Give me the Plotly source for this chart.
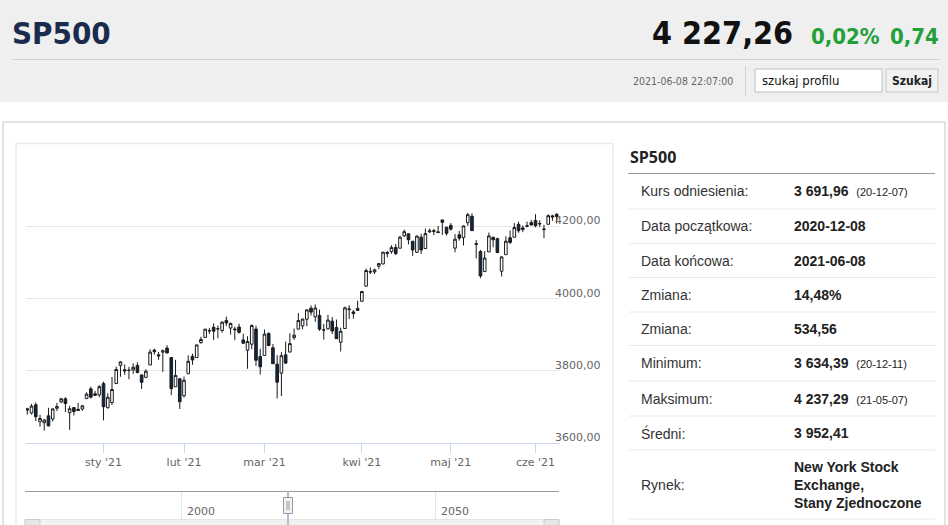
import plotly.graph_objects as go

W, H = 948, 525

# ---------------- data ----------------
dates = [
    "2020-12-07", "2020-12-08", "2020-12-09", "2020-12-10", "2020-12-11", "2020-12-14", "2020-12-15",
    "2020-12-16", "2020-12-17", "2020-12-18", "2020-12-21", "2020-12-22", "2020-12-23", "2020-12-24",
    "2020-12-28", "2020-12-29", "2020-12-30", "2020-12-31",
    "2021-01-04", "2021-01-05", "2021-01-06", "2021-01-07", "2021-01-08", "2021-01-11", "2021-01-12",
    "2021-01-13", "2021-01-14", "2021-01-15", "2021-01-19", "2021-01-20", "2021-01-21", "2021-01-22",
    "2021-01-25", "2021-01-26", "2021-01-27", "2021-01-28", "2021-01-29",
    "2021-02-01", "2021-02-02", "2021-02-03", "2021-02-04", "2021-02-05", "2021-02-08", "2021-02-09",
    "2021-02-10", "2021-02-11", "2021-02-12", "2021-02-16", "2021-02-17", "2021-02-18", "2021-02-19",
    "2021-02-22", "2021-02-23", "2021-02-24", "2021-02-25", "2021-02-26",
    "2021-03-01", "2021-03-02", "2021-03-03", "2021-03-04", "2021-03-05", "2021-03-08", "2021-03-09",
    "2021-03-10", "2021-03-11", "2021-03-12", "2021-03-15", "2021-03-16", "2021-03-17", "2021-03-18",
    "2021-03-19", "2021-03-22", "2021-03-23", "2021-03-24", "2021-03-25", "2021-03-26", "2021-03-29",
    "2021-03-30", "2021-03-31",
    "2021-04-01", "2021-04-05", "2021-04-06", "2021-04-07", "2021-04-08", "2021-04-09", "2021-04-12",
    "2021-04-13", "2021-04-14", "2021-04-15", "2021-04-16", "2021-04-19", "2021-04-20", "2021-04-21",
    "2021-04-22", "2021-04-23", "2021-04-26", "2021-04-27", "2021-04-28", "2021-04-29", "2021-04-30",
    "2021-05-03", "2021-05-04", "2021-05-05", "2021-05-06", "2021-05-07", "2021-05-10", "2021-05-11",
    "2021-05-12", "2021-05-13", "2021-05-14", "2021-05-17", "2021-05-18", "2021-05-19", "2021-05-20",
    "2021-05-21", "2021-05-24", "2021-05-25", "2021-05-26", "2021-05-27", "2021-05-28",
    "2021-06-01", "2021-06-02", "2021-06-03", "2021-06-04", "2021-06-07", "2021-06-08",
]

opens = [
    3694.73, 3683.05, 3705.98, 3659.13, 3656.08, 3675.27, 3666.41, 3696.25, 3713.65, 3722.39,
    3684.28, 3698.08, 3693.42, 3694.03, 3723.03, 3750.01, 3736.19, 3733.27,
    3764.61, 3698.02, 3712.20, 3764.71, 3815.05, 3803.14, 3801.62, 3802.23, 3814.98, 3788.73,
    3781.88, 3816.22, 3857.46, 3844.24, 3851.68, 3862.96, 3836.83, 3755.75, 3778.05,
    3731.17, 3791.84, 3840.27, 3836.66, 3878.30, 3892.59, 3910.49, 3920.78, 3916.40, 3911.65,
    3939.61, 3918.50, 3915.86, 3921.16, 3885.55, 3857.07, 3873.71, 3915.80, 3839.66,
    3842.51, 3903.64, 3863.99, 3818.53, 3793.58, 3844.39, 3851.93, 3891.99, 3915.54, 3924.52,
    3942.96, 3973.59, 3949.57, 3953.50, 3913.14, 3916.48, 3937.60, 3919.93, 3879.34, 3917.12,
    3969.31, 3963.34, 3967.25,
    3992.78, 4034.44, 4075.57, 4074.29, 4089.95, 4096.11, 4124.71, 4130.10, 4141.58, 4139.76,
    4174.14, 4179.80, 4159.18, 4128.42, 4170.46, 4138.78, 4185.03, 4188.25, 4185.14, 4218.00,
    4198.10,
    4203.00, 4140.00, 4177.06, 4169.14, 4210.34, 4228.29, 4150.34, 4130.55, 4074.99, 4129.58,
    4169.92, 4165.94, 4076.00, 4121.97, 4168.61, 4170.16, 4205.94, 4191.59, 4201.94, 4210.77,
    4216.52, 4206.82, 4191.43, 4206.05, 4229.34, 4233.81,
]

highs = [
    3697.41, 3708.45, 3712.39, 3678.49, 3665.91, 3697.61, 3695.29, 3711.27, 3725.12, 3726.70,
    3702.90, 3698.26, 3711.24, 3703.82, 3740.51, 3756.12, 3744.63, 3760.20,
    3769.99, 3737.83, 3783.04, 3811.55, 3826.69, 3817.86, 3810.78, 3820.96, 3823.60, 3788.73,
    3804.53, 3859.75, 3861.45, 3852.31, 3859.23, 3870.90, 3836.83, 3830.50, 3778.05,
    3784.32, 3843.09, 3847.51, 3872.42, 3894.56, 3915.77, 3918.35, 3931.50, 3925.99, 3937.23,
    3950.43, 3933.61, 3921.98, 3930.41, 3902.92, 3895.98, 3928.65, 3925.02, 3861.08,
    3914.50, 3906.41, 3874.47, 3843.67, 3851.69, 3881.06, 3903.76, 3917.35, 3960.27, 3944.99,
    3970.08, 3981.04, 3983.87, 3969.62, 3930.12, 3955.31, 3949.13, 3942.08, 3919.54, 3978.19,
    3981.83, 3968.01, 3994.41,
    4020.63, 4083.42, 4086.23, 4083.13, 4098.19, 4129.48, 4131.76, 4148.00, 4151.69, 4173.49,
    4191.31, 4180.81, 4159.18, 4175.02, 4179.57, 4194.17, 4194.19, 4193.35, 4201.53, 4218.78,
    4198.10,
    4209.39, 4179.04, 4187.72, 4202.70, 4237.29, 4236.39, 4162.04, 4134.73, 4131.58, 4183.13,
    4171.92, 4169.15, 4116.93, 4172.80, 4188.72, 4209.52, 4213.42, 4202.61, 4213.38, 4218.36,
    4234.12, 4217.37, 4204.39, 4233.45, 4232.34, 4236.74,
]

lows = [
    3678.88, 3678.83, 3660.54, 3645.18, 3634.39, 3645.84, 3659.62, 3688.57, 3710.87, 3685.84,
    3636.48, 3676.16, 3689.28, 3689.32, 3723.03, 3723.31, 3730.21, 3726.88,
    3662.71, 3695.07, 3705.34, 3764.71, 3783.60, 3789.02, 3776.51, 3791.50, 3792.86, 3749.72,
    3780.37, 3816.22, 3845.05, 3830.41, 3797.16, 3847.78, 3732.48, 3755.75, 3694.12,
    3725.62, 3791.84, 3816.68, 3836.66, 3874.93, 3892.59, 3902.64, 3884.94, 3890.39, 3905.78,
    3923.85, 3900.43, 3885.03, 3903.07, 3874.71, 3805.59, 3859.60, 3814.04, 3789.54,
    3842.51, 3868.57, 3818.86, 3723.34, 3730.19, 3819.25, 3851.93, 3885.73, 3915.54, 3915.21,
    3923.54, 3953.44, 3935.74, 3910.86, 3886.75, 3914.16, 3901.57, 3889.07, 3853.50, 3917.12,
    3943.25, 3944.35, 3966.98,
    3992.78, 4034.44, 4068.14, 4068.31, 4082.54, 4095.51, 4114.82, 4124.43, 4120.87, 4139.76,
    4170.75, 4150.47, 4118.38, 4126.35, 4123.69, 4138.78, 4182.36, 4176.22, 4181.78, 4176.81,
    4174.85,
    4188.03, 4128.59, 4160.94, 4147.33, 4201.64, 4188.13, 4111.53, 4056.88, 4074.99, 4129.58,
    4142.69, 4125.99, 4061.41, 4121.97, 4151.72, 4170.16, 4182.52, 4184.11, 4197.78, 4203.57,
    4197.59, 4198.27, 4167.93, 4206.05, 4215.66, 4208.41,
]

closes = [
    3691.96, 3702.25, 3672.82, 3668.10, 3663.46, 3647.49, 3694.62, 3701.17, 3722.48, 3709.41,
    3694.92, 3687.26, 3690.01, 3703.06, 3735.36, 3727.04, 3732.04, 3756.07,
    3700.65, 3726.86, 3748.14, 3803.79, 3824.68, 3799.61, 3801.19, 3809.84, 3795.54, 3768.25,
    3798.91, 3851.85, 3853.07, 3841.47, 3855.36, 3849.62, 3750.77, 3787.38, 3714.24,
    3773.86, 3826.31, 3830.17, 3871.74, 3886.83, 3915.59, 3911.23, 3909.88, 3916.38, 3934.83,
    3932.59, 3931.33, 3913.97, 3906.71, 3876.50, 3881.37, 3925.43, 3829.34, 3811.15,
    3901.82, 3870.29, 3819.72, 3768.47, 3841.94, 3821.35, 3875.44, 3898.81, 3939.34, 3943.34,
    3968.94, 3962.71, 3974.12, 3915.46, 3913.10, 3940.59, 3910.52, 3889.14, 3909.52, 3974.54,
    3971.09, 3958.55, 3972.89,
    4019.87, 4077.91, 4073.94, 4079.95, 4097.17, 4128.80, 4127.99, 4141.59, 4124.66, 4170.42,
    4185.47, 4163.26, 4134.94, 4173.42, 4134.98, 4180.17, 4187.62, 4186.72, 4183.18, 4211.47,
    4181.17,
    4192.66, 4164.66, 4167.59, 4201.62, 4232.60, 4188.43, 4152.10, 4063.04, 4112.50, 4173.85,
    4163.29, 4127.83, 4115.68, 4159.12, 4155.86, 4197.05, 4188.13, 4195.99, 4200.88, 4204.11,
    4202.04, 4208.12, 4192.85, 4229.89, 4226.52, 4227.26,
]

month_labels = ["sty '21", "lut '21", "mar '21", "kwi '21", "maj '21", "cze '21"]
y_ticks = [3600, 3800, 4000, 4200, 4400]
y_tick_text = ["3600,00", "3800,00", "4000,00", "4200,00", ""]

nav_years = [2000, 2050]

symbol = "SP500"
last_price = "4 227,26"
change_pct = "0,02%"
change_abs = "0,74"
timestamp = "2021-06-08 22:07:00"
search_placeholder = "szukaj profilu"
search_button = "Szukaj"

table_labels = ["Kurs odniesienia:", "Data początkowa:", "Data końcowa:", "Zmiana:", "Zmiana:",
                "Minimum:", "Maksimum:", "Średni:", "Rynek:"]
table_values = ["3 691,96", "2020-12-08", "2021-06-08", "14,48%", "534,56",
                "3 634,39", "4 237,29", "3 952,41", "New York Stock<br>Exchange,<br>Stany Zjednoczone"]
table_notes = ["(20-12-07)", "", "", "", "", "(20-12-11)", "(21-05-07)", "", ""]

# ---------------- helpers ----------------
def px(x):
    return x / W


def py(y):
    return 1 - y / H


shapes = []
annotations = []


def rect(x0, y0, x1, y1, fill, line="rgba(0,0,0,0)", lw=1, layer="below"):
    shapes.append(dict(type="rect", xref="paper", yref="paper",
                       x0=px(x0), x1=px(x1), y0=py(y1), y1=py(y0),
                       fillcolor=fill, line=dict(color=line, width=lw), layer=layer))


def hline(x0, x1, y, color, lw=1, layer="below"):
    shapes.append(dict(type="line", xref="paper", yref="paper",
                       x0=px(x0), x1=px(x1), y0=py(y), y1=py(y),
                       line=dict(color=color, width=lw), layer=layer))


def vline(x, y0, y1, color, lw=1, layer="below"):
    shapes.append(dict(type="line", xref="paper", yref="paper",
                       x0=px(x), x1=px(x), y0=py(y0), y1=py(y1),
                       line=dict(color=color, width=lw), layer=layer))


def text(x, y, s, size, color, family, xanchor="left", yanchor="middle", align="left"):
    annotations.append(dict(xref="paper", yref="paper", x=px(x), y=py(y), text=s,
                            showarrow=False, xanchor=xanchor, yanchor=yanchor, align=align,
                            font=dict(size=size, color=color, family=family)))


NARROW = "Liberation Sans Narrow, DejaVu Sans Condensed, Arial Narrow, sans-serif"
ARIAL = "Liberation Sans, Arial, sans-serif"
HC = "DejaVu Sans, Verdana, sans-serif"

# ---------------- page chrome ----------------
rect(-2, -2, W + 2, 102, "#efefef")
hline(12, 940, 59.5, "#d2d2d2", 1)
text(10, 33, "<b>" + symbol + "</b>", 31, "#1b2b4d", NARROW)
text(795, 33, "<b>" + last_price + "</b>", 32, "#111111", NARROW, xanchor="right")
text(809, 36, "<b>" + change_pct + "</b>", 22, "#22a03a", NARROW)
text(941, 36, "<b>" + change_abs + "</b>", 22, "#22a03a", NARROW, xanchor="right")
text(735, 81, timestamp, 10.5, "#666666", NARROW, xanchor="right")
vline(745.5, 66, 96, "#d0d0d0", 1)
rect(755, 69, 882, 92, "#ffffff", "#bdbdbd", 1)
text(760, 81, search_placeholder, 13, "#111111", NARROW)
rect(886, 69, 938, 92, "#f1f1f1", "#c8c8c8", 1)
text(912, 81, "<b>" + search_button + "</b>", 12, "#222222", NARROW, xanchor="center")

# outer content panel
rect(3, 122, 945, 540, "#ffffff", "#e3e3e3", 2)
# chart container
rect(16, 143.5, 613, 540, "#ffffff", "#ececec", 1.5)

# right-side table
text(628, 157, "<b>" + symbol + "</b>", 16, "#222222", "Open Sans, " + ARIAL)
hline(628, 935, 173.5, "#9a9a9a", 1)
row_seps = [209, 243.5, 277.5, 312, 345.5, 381, 416, 450, 519]
row_tops = [173.5] + row_seps[:-1]
for i, lab in enumerate(table_labels):
    yc = (row_tops[i] + row_seps[i]) / 2
    text(639, yc, lab, 14, "#333333", ARIAL)
    val = "<b>" + table_values[i] + "</b>"
    if table_notes[i]:
        val += "  <span style='font-size:11px'>" + table_notes[i] + "</span>"
    text(792, yc, val, 14, "#222222", ARIAL)
    hline(629, 935, row_seps[i], "#e8e8e8", 1)

# navigator (decorative range selector)
hline(25, 559, 491.5, "#9a9a9a", 1)
nav_x = {nav_years[0]: 181.5, nav_years[1]: 435.5}
for yr in nav_years:
    vline(nav_x[yr], 492, 519, "#e6e6e6", 1)
    text(nav_x[yr] + 3, 511, str(yr), 11, "#666666", HC)
rect(25, 519.5, 559, 530, "#f2f2f2", "#e4e4e4", 1)
rect(25, 519.5, 40, 530, "#e6e6e6", "#cccccc", 1)
rect(544, 519.5, 559, 530, "#e6e6e6", "#cccccc", 1)
vline(288, 491, 525, "#a9bfdf", 2)
rect(283.5, 497.5, 292.5, 513.5, "#f2f2f2", "#999999", 1)
vline(287, 501, 510, "#999999", 1)
vline(289, 501, 510, "#999999", 1)

# ---------------- chart ----------------
idx = list(range(len(dates)))
tick_idx = []
seen = set()
for i, d in enumerate(dates):
    ym = d[:7]
    if d.startswith("2021") and ym not in seen:
        seen.add(ym)
        tick_idx.append(i)

fig = go.Figure()
fig.add_trace(go.Candlestick(
    x=idx, open=opens, high=highs, low=lows, close=closes,
    customdata=dates, name=symbol,
    increasing=dict(fillcolor="#ffffff", line=dict(color="#1a1a1a", width=1)),
    decreasing=dict(fillcolor="#0f2747", line=dict(color="#1a1a1a", width=1)),
    whiskerwidth=0,
    hovertext=dates, hoverinfo="text+y",
))

x_left, x_right = 26, 560
x_first, step = 27.3, 4.235
fig.update_layout(
    width=W, height=H,
    margin=dict(l=0, r=0, t=0, b=0),
    paper_bgcolor="#ffffff", plot_bgcolor="rgba(0,0,0,0)",
    showlegend=False,
    boxgap=0.12,
    shapes=shapes, annotations=annotations,
    xaxis=dict(
        domain=[px(x_left), px(x_right)],
        range=[(x_left - x_first) / step, (x_right - x_first) / step],
        tickmode="array", tickvals=tick_idx, ticktext=month_labels,
        showgrid=False, zeroline=False,
        showline=True, linecolor="#ccd6eb", linewidth=1,
        ticks="outside", ticklen=9, tickcolor="#ccd6eb",
        tickfont=dict(size=11, color="#666666", family=HC),
        rangeslider=dict(visible=False), fixedrange=True,
    ),
    yaxis=dict(
        domain=[py(443), py(154.3)],
        range=[3600, 4400],
        side="right",
        tickmode="array", tickvals=y_ticks, ticktext=y_tick_text,
        showgrid=True, gridcolor="#e6e6e6", gridwidth=1,
        zeroline=False, showline=False,
        tickfont=dict(size=11, color="#666666", family=HC),
        ticklabelshift=-6, ticklabelstandoff=-6,
        fixedrange=True,
    ),
)

fig.write_html(
    "out.html",
    config={"displayModeBar": False},
    post_script="document.body.style.margin='0px';document.body.style.overflow='hidden';",
)
